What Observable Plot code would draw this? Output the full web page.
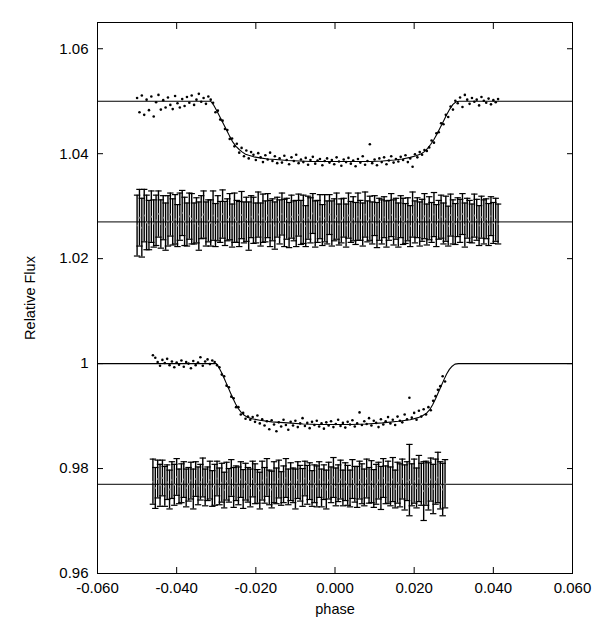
<!DOCTYPE html>
<html><head><meta charset="utf-8">
<script src="https://cdn.jsdelivr.net/npm/d3@7"></script>
<script src="https://cdn.jsdelivr.net/npm/@observablehq/plot@0.6"></script>
<style>body{margin:0;background:#fff;}</style>
</head><body><div id="chart"></div>
<script>
// ---- Visit 1 (upper light curve) ----
const phase1 = [-0.0500,-0.0494,-0.0488,-0.0482,-0.0476,-0.0470,-0.0464,-0.0458,-0.0452,-0.0446,
-0.0440,-0.0434,-0.0428,-0.0422,-0.0416,-0.0410,-0.0404,-0.0398,-0.0392,-0.0386,
-0.0380,-0.0374,-0.0368,-0.0362,-0.0356,-0.0350,-0.0344,-0.0338,-0.0332,-0.0326,
-0.0320,-0.0314,-0.0308,-0.0302,-0.0296,-0.0290,-0.0284,-0.0278,-0.0272,-0.0266,
-0.0260,-0.0254,-0.0248,-0.0242,-0.0236,-0.0230,-0.0224,-0.0218,-0.0212,-0.0206,
-0.0200,-0.0194,-0.0188,-0.0182,-0.0176,-0.0170,-0.0164,-0.0158,-0.0152,-0.0146,
-0.0140,-0.0134,-0.0128,-0.0122,-0.0116,-0.0110,-0.0104,-0.0098,-0.0092,-0.0086,
-0.0080,-0.0074,-0.0068,-0.0062,-0.0056,-0.0050,-0.0044,-0.0038,-0.0032,-0.0026,
-0.0020,-0.0014,-0.0008,-0.0002,0.0004,0.0010,0.0016,0.0022,0.0028,0.0034,
0.0040,0.0046,0.0052,0.0058,0.0064,0.0070,0.0076,0.0082,0.0088,0.0094,
0.0100,0.0106,0.0112,0.0118,0.0124,0.0130,0.0136,0.0142,0.0148,0.0154,
0.0160,0.0166,0.0172,0.0178,0.0184,0.0190,0.0196,0.0202,0.0208,0.0214,
0.0220,0.0226,0.0232,0.0238,0.0244,0.0250,0.0256,0.0262,0.0268,0.0274,
0.0280,0.0286,0.0292,0.0298,0.0304,0.0310,0.0316,0.0322,0.0328,0.0334,
0.0340,0.0346,0.0352,0.0358,0.0364,0.0370,0.0376,0.0382,0.0388,0.0394,
0.0400,0.0406,0.0412];
const flux1 = [1.0506,1.0479,1.0511,1.0474,1.0503,1.0483,1.0509,1.0471,1.0498,1.0512,
1.0484,1.0502,1.0488,1.0507,1.0493,1.0485,1.0510,1.0496,1.0488,1.0504,
1.0491,1.0508,1.0497,1.0511,1.0493,1.0503,1.0514,1.0499,1.0506,1.0495,
1.0509,1.0503,1.0497,1.0479,1.0482,1.0465,1.0463,1.0447,1.0445,1.0428,
1.0429,1.0414,1.0419,1.0402,1.0411,1.0395,1.0406,1.0391,1.0403,1.0398,
1.0388,1.0401,1.0393,1.0384,1.0397,1.0389,1.0402,1.0386,1.0395,1.0382,
1.0391,1.0383,1.0396,1.0388,1.0380,1.0393,1.0386,1.0398,1.0382,1.0389,
1.0384,1.0392,1.0379,1.0388,1.0394,1.0381,1.0387,1.0390,1.0378,1.0386,
1.0391,1.0383,1.0388,1.0380,1.0393,1.0385,1.0377,1.0389,1.0384,1.0392,
1.0381,1.0387,1.0376,1.0390,1.0383,1.0395,1.0379,1.0386,1.0418,1.0382,
1.0389,1.0378,1.0391,1.0384,1.0393,1.0380,1.0387,1.0395,1.0383,1.0390,
1.0385,1.0394,1.0388,1.0397,1.0384,1.0391,1.0375,1.0399,1.0393,1.0403,
1.0398,1.0407,1.0405,1.0412,1.0425,1.0421,1.0439,1.0441,1.0458,1.0456,
1.0474,1.0470,1.0490,1.0484,1.0501,1.0496,1.0507,1.0489,1.0512,1.0503,
1.0495,1.0506,1.0499,1.0503,1.0492,1.0508,1.0501,1.0497,1.0505,1.0494,
1.0502,1.0498,1.0504];
const resid1 = [1.0263,1.0278,1.0259,1.0282,1.0269,1.0264,1.0280,1.0267,1.0273,1.0285,
1.0266,1.0278,1.0261,1.0272,1.0284,1.0270,1.0275,1.0263,1.0280,1.0287,
1.0271,1.0265,1.0281,1.0276,1.0267,1.0273,1.0262,1.0279,1.0284,1.0266,
1.0272,1.0268,1.0282,1.0264,1.0277,1.0270,1.0285,1.0267,1.0274,1.0280,
1.0263,1.0278,1.0271,1.0266,1.0283,1.0269,1.0275,1.0262,1.0280,1.0273,
1.0268,1.0284,1.0265,1.0277,1.0271,1.0282,1.0267,1.0274,1.0263,1.0279,
1.0270,1.0285,1.0268,1.0276,1.0264,1.0280,1.0272,1.0267,1.0283,1.0269,
1.0275,1.0262,1.0278,1.0273,1.0286,1.0266,1.0271,1.0280,1.0264,1.0277,
1.0269,1.0284,1.0267,1.0274,1.0281,1.0265,1.0272,1.0278,1.0263,1.0282,
1.0270,1.0276,1.0267,1.0280,1.0273,1.0265,1.0284,1.0271,1.0277,1.0268,
1.0282,1.0264,1.0275,1.0270,1.0279,1.0266,1.0273,1.0283,1.0269,1.0276,
1.0264,1.0280,1.0271,1.0267,1.0275,1.0262,1.0284,1.0270,1.0278,1.0266,
1.0273,1.0281,1.0265,1.0277,1.0269,1.0284,1.0263,1.0274,1.0280,1.0267,
1.0276,1.0262,1.0283,1.0270,1.0266,1.0279,1.0272,1.0285,1.0264,1.0277,
1.0271,1.0267,1.0282,1.0274,1.0263,1.0279,1.0270,1.0276,1.0265,1.0281,
1.0268,1.0274,1.0266];
const err1 = [0.0058,0.0054,0.0056,0.0050,0.0052,0.0047,0.0049,0.0045,0.0048,0.0044,
0.0046,0.0042,0.0045,0.0048,0.0041,0.0044,0.0047,0.0040,0.0045,0.0043,
0.0046,0.0041,0.0044,0.0048,0.0039,0.0043,0.0046,0.0041,0.0045,0.0042,
0.0040,0.0044,0.0047,0.0041,0.0043,0.0039,0.0046,0.0042,0.0040,0.0044,
0.0041,0.0047,0.0040,0.0043,0.0045,0.0039,0.0042,0.0046,0.0040,0.0044,
0.0038,0.0043,0.0041,0.0046,0.0039,0.0042,0.0044,0.0040,0.0045,0.0038,
0.0042,0.0040,0.0045,0.0039,0.0043,0.0041,0.0038,0.0044,0.0040,0.0042,
0.0046,0.0039,0.0041,0.0043,0.0038,0.0044,0.0040,0.0042,0.0039,0.0045,
0.0041,0.0038,0.0043,0.0040,0.0044,0.0039,0.0042,0.0037,0.0041,0.0043,
0.0039,0.0042,0.0040,0.0045,0.0038,0.0041,0.0043,0.0039,0.0042,0.0040,
0.0038,0.0043,0.0040,0.0042,0.0039,0.0044,0.0038,0.0041,0.0043,0.0039,
0.0042,0.0040,0.0044,0.0038,0.0041,0.0039,0.0043,0.0040,0.0038,0.0042,
0.0040,0.0043,0.0039,0.0041,0.0038,0.0042,0.0040,0.0037,0.0041,0.0039,
0.0043,0.0038,0.0040,0.0042,0.0039,0.0037,0.0041,0.0039,0.0042,0.0038,
0.0040,0.0037,0.0041,0.0039,0.0038,0.0040,0.0042,0.0038,0.0040,0.0037,
0.0039,0.0041,0.0038];
const modelPhase1 = [-0.0600,-0.0314,-0.0306,-0.0298,-0.0290,-0.0282,-0.0274,-0.0266,-0.0258,-0.0250,
-0.0242,-0.0234,-0.0226,-0.0218,-0.0205,-0.0190,-0.0170,-0.0150,-0.0120,-0.0090,
-0.0060,-0.0030,0.0000,0.0030,0.0060,0.0090,0.0120,0.0150,0.0170,0.0190,
0.0205,0.0218,0.0226,0.0234,0.0242,0.0250,0.0258,0.0266,0.0274,0.0282,
0.0290,0.0298,0.0306,0.0314,0.0600];
const modelFlux1 = [1.0500,1.0500,1.0492,1.0481,1.0469,1.0457,1.0445,1.0433,1.0422,1.0414,
1.0408,1.0403,1.0399,1.0397,1.0394,1.0392,1.0390,1.0389,1.0387,1.0386,
1.0385,1.0385,1.0385,1.0385,1.0385,1.0385,1.0386,1.0388,1.0390,1.0393,
1.0396,1.0400,1.0404,1.0410,1.0418,1.0427,1.0438,1.0450,1.0462,1.0474,
1.0485,1.0494,1.0499,1.0500,1.0500];

// ---- Visit 2 (lower light curve) ----
const phase2 = [-0.0460,-0.0454,-0.0448,-0.0442,-0.0436,-0.0430,-0.0424,-0.0418,-0.0412,-0.0406,
-0.0400,-0.0394,-0.0388,-0.0382,-0.0376,-0.0370,-0.0364,-0.0358,-0.0352,-0.0346,
-0.0340,-0.0334,-0.0328,-0.0322,-0.0316,-0.0310,-0.0304,-0.0298,-0.0292,-0.0286,
-0.0280,-0.0274,-0.0268,-0.0262,-0.0256,-0.0250,-0.0244,-0.0238,-0.0232,-0.0226,
-0.0220,-0.0214,-0.0208,-0.0202,-0.0196,-0.0190,-0.0184,-0.0178,-0.0172,-0.0166,
-0.0160,-0.0154,-0.0148,-0.0142,-0.0136,-0.0130,-0.0124,-0.0118,-0.0112,-0.0106,
-0.0100,-0.0094,-0.0088,-0.0082,-0.0076,-0.0070,-0.0064,-0.0058,-0.0052,-0.0046,
-0.0040,-0.0034,-0.0028,-0.0022,-0.0016,-0.0010,-0.0004,0.0002,0.0008,0.0014,
0.0020,0.0026,0.0032,0.0038,0.0044,0.0050,0.0056,0.0062,0.0068,0.0074,
0.0080,0.0086,0.0092,0.0098,0.0104,0.0110,0.0116,0.0122,0.0128,0.0134,
0.0140,0.0146,0.0152,0.0158,0.0164,0.0170,0.0176,0.0182,0.0188,0.0194,
0.0200,0.0206,0.0212,0.0218,0.0224,0.0230,0.0236,0.0242,0.0248,0.0254,
0.0260,0.0266,0.0272,0.0278];
const flux2 = [1.0016,1.0011,1.0003,0.9996,1.0007,1.0001,1.0009,0.9997,1.0004,0.9993,
1.0002,0.9998,1.0006,0.9994,1.0003,1.0000,0.9991,1.0005,0.9997,1.0002,
1.0012,0.9996,1.0004,1.0008,0.9999,1.0006,1.0003,0.9997,0.9993,0.9979,
0.9976,0.9958,0.9955,0.9937,0.9934,0.9917,0.9917,0.9903,0.9906,0.9895,
0.9899,0.9893,0.9898,0.9889,0.9901,0.9886,0.9894,0.9882,0.9890,0.9875,
0.9892,0.9884,0.9871,0.9888,0.9880,0.9893,0.9883,0.9874,0.9889,0.9882,
0.9891,0.9879,0.9886,0.9896,0.9881,0.9887,0.9877,0.9889,0.9883,0.9891,
0.9880,0.9886,0.9876,0.9888,0.9882,0.9890,0.9879,0.9885,0.9893,0.9881,
0.9887,0.9878,0.9889,0.9884,0.9892,0.9880,0.9886,0.9907,0.9883,0.9890,
0.9885,0.9896,0.9882,0.9891,0.9887,0.9879,0.9894,0.9884,0.9890,0.9898,
0.9886,0.9893,0.9883,0.9899,0.9891,0.9888,0.9903,0.9894,0.9935,0.9897,
0.9906,0.9893,0.9910,0.9899,0.9913,0.9903,0.9917,0.9911,0.9929,0.9938,
0.9950,0.9957,0.9976,0.9966];
const resid2 = [0.9775,0.9763,0.9780,0.9768,0.9782,0.9766,0.9774,0.9760,0.9778,0.9769,
0.9784,0.9766,0.9772,0.9779,0.9763,0.9770,0.9777,0.9761,0.9780,0.9767,
0.9774,0.9783,0.9764,0.9771,0.9778,0.9762,0.9769,0.9781,0.9766,0.9773,
0.9759,0.9776,0.9768,0.9782,0.9764,0.9772,0.9767,0.9779,0.9761,0.9775,
0.9769,0.9763,0.9780,0.9771,0.9766,0.9758,0.9777,0.9768,0.9783,0.9764,
0.9760,0.9774,0.9767,0.9780,0.9762,0.9770,0.9782,0.9765,0.9775,0.9768,
0.9761,0.9778,0.9772,0.9764,0.9781,0.9769,0.9776,0.9762,0.9771,0.9766,
0.9779,0.9763,0.9774,0.9760,0.9777,0.9769,0.9783,0.9765,0.9772,0.9779,
0.9763,0.9775,0.9768,0.9762,0.9780,0.9770,0.9765,0.9778,0.9771,0.9764,
0.9781,0.9768,0.9775,0.9762,0.9770,0.9777,0.9763,0.9782,0.9769,0.9774,
0.9766,0.9779,0.9761,0.9773,0.9768,0.9780,0.9764,0.9776,0.9778,0.9769,
0.9776,0.9763,0.9781,0.9770,0.9757,0.9772,0.9766,0.9779,0.9761,0.9775,
0.9783,0.9768,0.9760,0.9771];
const err2 = [0.0043,0.0039,0.0036,0.0040,0.0034,0.0038,0.0033,0.0037,0.0035,0.0039,
0.0035,0.0033,0.0037,0.0034,0.0036,0.0032,0.0035,0.0038,0.0033,0.0036,
0.0034,0.0037,0.0035,0.0032,0.0036,0.0034,0.0039,0.0033,0.0035,0.0037,
0.0034,0.0036,0.0032,0.0035,0.0038,0.0033,0.0036,0.0034,0.0037,0.0035,
0.0033,0.0036,0.0034,0.0038,0.0032,0.0035,0.0037,0.0034,0.0036,0.0033,
0.0035,0.0039,0.0034,0.0036,0.0032,0.0035,0.0037,0.0034,0.0036,0.0033,
0.0038,0.0035,0.0034,0.0036,0.0033,0.0037,0.0035,0.0034,0.0036,0.0039,
0.0034,0.0036,0.0033,0.0037,0.0035,0.0034,0.0038,0.0036,0.0035,0.0037,
0.0034,0.0036,0.0038,0.0035,0.0037,0.0034,0.0039,0.0036,0.0038,0.0035,
0.0037,0.0034,0.0040,0.0036,0.0038,0.0035,0.0041,0.0037,0.0036,0.0040,
0.0037,0.0042,0.0036,0.0039,0.0041,0.0038,0.0043,0.0037,0.0068,0.0040,
0.0042,0.0038,0.0044,0.0040,0.0056,0.0042,0.0045,0.0041,0.0047,0.0043,
0.0048,0.0045,0.0050,0.0046];
const modelPhase2 = [-0.0600,-0.0300,-0.0293,-0.0286,-0.0279,-0.0272,-0.0265,-0.0258,-0.0251,-0.0244,
-0.0237,-0.0230,-0.0222,-0.0210,-0.0190,-0.0160,-0.0120,-0.0080,-0.0040,0.0000,
0.0040,0.0080,0.0120,0.0160,0.0190,0.0210,0.0222,0.0232,0.0240,0.0247,
0.0254,0.0261,0.0268,0.0275,0.0282,0.0289,0.0296,0.0303,0.0312,0.0600];
const modelFlux2 = [1.0000,1.0000,0.9992,0.9982,0.9970,0.9958,0.9946,0.9934,0.9923,0.9914,
0.9907,0.9902,0.9898,0.9895,0.9892,0.9889,0.9887,0.9885,0.9884,0.9884,
0.9884,0.9885,0.9887,0.9890,0.9893,0.9897,0.9901,0.9906,0.9913,0.9922,
0.9933,0.9945,0.9957,0.9969,0.9980,0.9989,0.9995,0.9999,1.0000,1.0000];

// residual zero levels
const residLevels = [1.027, 0.977];

// axes
const xDomain = [-0.06, 0.06];
const yDomain = [0.96, 1.065];
const xTicks = [-0.06,-0.04,-0.02,0,0.02,0.04,0.06];
const xTickLabels = ["-0.060","-0.040","-0.020","0.000","0.020","0.040","0.060"];
const yTicks = [0.96,0.98,1,1.02,1.04,1.06];
const yTickLabels = ["0.96","0.98","1","1.02","1.04","1.06"];
const xTitle = "phase";
const yTitle = "Relative Flux";

// tables built from the arrays
const zip = (xs, ys) => xs.map((p, i) => ({phase: p, flux: ys[i]}));
const lc1 = zip(phase1, flux1), lc2 = zip(phase2, flux2);
const mod1 = zip(modelPhase1, modelFlux1), mod2 = zip(modelPhase2, modelFlux2);
const res1 = phase1.map((p, i) => ({phase: p, flux: resid1[i], lo: resid1[i] - err1[i], hi: resid1[i] + err1[i]}));
const res2 = phase2.map((p, i) => ({phase: p, flux: resid2[i], lo: resid2[i] - err2[i], hi: resid2[i] + err2[i]}));

const cap = {draw(ctx, size) { const w = Math.sqrt(size / Math.PI); ctx.moveTo(-w, 0); ctx.lineTo(w, 0); }};
const errorMarks = (res) => [
  Plot.ruleX(res, {x: "phase", y1: "lo", y2: "hi", stroke: "black", strokeWidth: 1.4}),
  Plot.dot(res, {x: "phase", y: "hi", symbol: cap, r: 3.2, stroke: "black", fill: "none", strokeWidth: 1.2}),
  Plot.dot(res, {x: "phase", y: "lo", symbol: cap, r: 3.2, stroke: "black", fill: "none", strokeWidth: 1.2}),
  Plot.dot(res, {x: "phase", y: "flux", r: 1, fill: "#777", stroke: "none"})
];
const lab = (ticks, labels) => d => labels[ticks.indexOf(d)];

const chart = Plot.plot({
  width: 602, height: 625,
  marginLeft: 97, marginRight: 30, marginTop: 22, marginBottom: 52,
  style: {fontFamily: "'Liberation Sans', Arial, sans-serif", fontSize: "15px", color: "black", background: "white"},
  x: {domain: xDomain},
  y: {domain: yDomain},
  marks: [
    Plot.ruleY(residLevels, {stroke: "black", strokeWidth: 1}),
    ...errorMarks(res1),
    ...errorMarks(res2),
    Plot.line(mod1, {x: "phase", y: "flux", stroke: "black", strokeWidth: 1.1}),
    Plot.line(mod2, {x: "phase", y: "flux", stroke: "black", strokeWidth: 1.1}),
    Plot.dot(lc1, {x: "phase", y: "flux", r: 1.3, fill: "black", stroke: "none"}),
    Plot.dot(lc2, {x: "phase", y: "flux", r: 1.3, fill: "black", stroke: "none"}),
    Plot.frame({stroke: "black", strokeWidth: 1}),
    Plot.axisX(xTicks, {anchor: "bottom", tickSize: -6, tickPadding: 15, tickFormat: lab(xTicks, xTickLabels), label: null, fontSize: 15}),
    Plot.axisX(xTicks, {anchor: "top", tickSize: -6, tickFormat: () => "", label: null}),
    Plot.axisY(yTicks, {anchor: "left", tickSize: -6, tickPadding: 15, tickFormat: lab(yTicks, yTickLabels), label: null, fontSize: 15}),
    Plot.axisY(yTicks, {anchor: "right", tickSize: -6, tickFormat: () => "", label: null}),
    Plot.text([xTitle], {frameAnchor: "bottom", dy: 36, lineAnchor: "middle", textAnchor: "middle", text: d => d, fontSize: 14.5}),
    Plot.text([yTitle], {frameAnchor: "left", dx: -67, rotate: -90, lineAnchor: "middle", textAnchor: "middle", text: d => d, fontSize: 14.5})
  ]
});
document.getElementById("chart").appendChild(chart);
</script>
</body></html>
